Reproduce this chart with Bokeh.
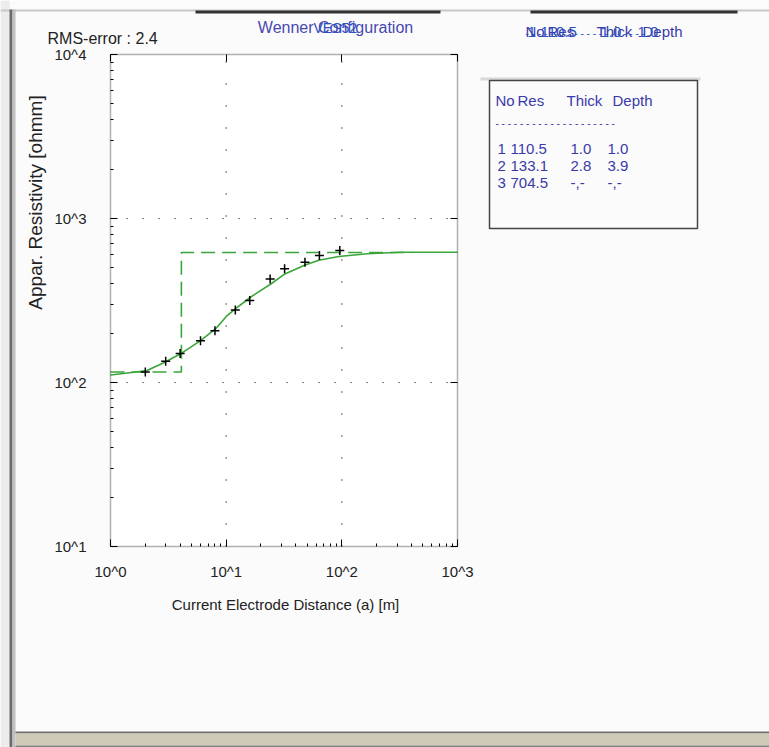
from bokeh.plotting import figure
from bokeh.models import (LogAxis, LogScale, Label, BoxAnnotation, CustomJSTickFormatter,
                          Range1d, FixedTicker)
from bokeh.embed import file_html
from bokeh.resources import INLINE

# ---------------- data ----------------
spacing = [2, 3, 4, 6, 8, 12, 16, 24, 32, 48, 64, 96]
app_res = [116, 135, 150, 180, 207, 277, 316, 427, 493, 541, 594, 638]

fit_x = [1, 1.59, 2.07, 2.95, 4.03, 6.0, 8.08, 10.2, 12, 16.2, 24.5, 31.5, 47.5, 63.2, 94, 166, 320, 1000]
fit_y = [111, 115.6, 118.4, 133, 149.6, 180, 212, 256, 281, 331, 400, 455, 518, 556, 587, 610, 622, 622]

model_x = [1, 4.1, 4.1, 400]
model_y = [116, 116, 620, 620]

x_ticks = [1, 10, 100, 1000]
y_ticks = [10, 100, 1000, 10000]
x_grid = [10, 100]
y_grid = [100, 1000]

table_header = ["No", "Res", "Thick", "Depth"]
layer_no = ["1", "2", "3"]
layer_res = ["110.5", "133.1", "704.5"]
layer_thick = ["1.0", "2.8", "-,-"]
layer_depth = ["1.0", "3.9", "-,-"]
rms_text = "RMS-error :  2.4"
title_text = "Wenner Configuration"
station_text = "VES52"

FONT = "Liberation Sans"
BLUE = "#3a3aa8"
BLUE2 = "#2a4fc0"
GREEN = "#3aa53a"

# ---------------- geometry: frame = whole canvas ----------------
W, H = 769, 747
FX0, FX1, FY0, FY1 = 110, 457, 54, 546          # plot box in canvas pixels
XMIN, XMAX, YMIN, YMAX = 1, 1000, 10, 10000
dx = (FX1 - FX0) / 3.0
dy = (FY1 - FY0) / 3.0
x_range = Range1d(10 ** (-FX0 / dx), 10 ** ((W - FX0) / dx))
y_range = Range1d(10 ** (1 - (H - FY1) / dy), 10 ** (4 + FY0 / dy))

p = figure(x_axis_type=None, y_axis_type=None, x_range=x_range, y_range=y_range,
           x_axis_location=None, y_axis_location=None,
           frame_width=W, frame_height=H, min_border=0,
           output_backend="svg", toolbar_location=None,
           background_fill_color="#fbfbfb", border_fill_color="#fbfbfb")
p.outline_line_color = None
p.xgrid.visible = False
p.ygrid.visible = False
p.x_scale = LogScale()
p.y_scale = LogScale()

# white plot area
p.add_layout(BoxAnnotation(left=XMIN, right=XMAX, bottom=YMIN, top=YMAX,
                           fill_color="white", fill_alpha=1, line_color=None, level="underlay"))

fmt = CustomJSTickFormatter(code='return "10^" + Math.round(Math.log10(tick));')
x_minor = [m * d for d in (1, 10, 100) for m in range(2, 10)]
y_minor = [m * d for d in (10, 100, 1000) for m in range(2, 10)]

def make_axis(ticks, minor, loc, bounds, labels):
    return LogAxis(ticker=FixedTicker(ticks=ticks, minor_ticks=minor), fixed_location=loc,
                   bounds=bounds, axis_line_color=None,
                   major_tick_in=7, major_tick_out=0, minor_tick_in=3 if minor else 0, minor_tick_out=0,
                   major_tick_line_color="black", minor_tick_line_color="black",
                   formatter=fmt, major_label_text_font=FONT, major_label_text_font_size="15px",
                   major_label_text_color="#222222" if labels else None)

xb = make_axis(x_ticks, x_minor, YMIN, (XMIN, XMAX), True)
xb.major_label_standoff = 16
yl = make_axis(y_ticks, y_minor, XMIN, (YMIN, YMAX), True)
yl.major_label_standoff = 24
xt = make_axis(x_ticks, [], YMAX, (XMIN, XMAX), False)
yr = make_axis(y_ticks, [], XMAX, (YMIN, YMAX), False)
p.add_layout(xb, "below")
p.add_layout(yl, "left")
p.add_layout(xt, "above")
p.add_layout(yr, "right")

# dotted grid lines inside the box
p.segment(x0=x_grid, y0=[YMIN] * len(x_grid), x1=x_grid, y1=[YMAX] * len(x_grid),
          line_color="black", line_width=1.2, line_dash="1 21")
p.segment(x0=[XMIN] * len(y_grid), y0=y_grid, x1=[XMAX] * len(y_grid), y1=y_grid,
          line_color="black", line_width=1.2, line_dash="1 15")

# ---------------- marks ----------------
p.line(model_x, model_y, line_color=GREEN, line_width=1.6, line_dash="14 7")
p.line(fit_x, fit_y, line_color=GREEN, line_width=1.6)
p.scatter(spacing, app_res, marker="cross", size=9, line_color="black", line_width=1.5)

p.add_layout(BoxAnnotation(left=XMIN, right=XMAX, bottom=YMIN, top=YMAX,
                           fill_alpha=0, line_color="black", line_width=1.5))

# ---------------- helpers for screen placement (canvas pixels, y down) ----------------
def label(X, Y, text, size="15px", color="#222222", align="left", angle=0, base="middle"):
    p.add_layout(Label(x=X, y=H - Y, x_units="screen", y_units="screen", text=text,
                       text_font=FONT, text_font_size=size, text_color=color,
                       text_align=align, text_baseline=base, angle=angle))

def box(X0, Y0, X1, Y1, fill=None, line=None, lw=1):
    p.add_layout(BoxAnnotation(left=X0, right=X1, top=H - Y0, bottom=H - Y1,
                               left_units="screen", right_units="screen",
                               top_units="screen", bottom_units="screen",
                               fill_color=fill, fill_alpha=1 if fill else 0,
                               line_color=line, line_width=lw, line_alpha=1 if line else 0))

# texts
label(47, 38, rms_text, size="16px")
label(335, 27, title_text, color="#4848b0", align="center", size="16px")
label(313, 27, station_text, color=BLUE2, size="14px")
label(35, 202, "Appar. Resistivity [ohmm]", angle=1.5708, align="center", size="19px")
label(285, 604, "Current Electrode Distance (a) [m]", align="center")

# table
hdr_x = [495, 517, 566, 612]
def table(ox, oy, color):
    for hx, t in zip(hdr_x, table_header):
        label(hx + ox, 100 + oy, t, color=color)
    label(495 + ox, 123 + oy, "- - - - - - - - - - - - - - - - - - - -", size="10px", color=color)
    for i in range(len(layer_no)):
        y = 148 + 17 * i + oy
        label(497 + ox, y, layer_no[i], color=color)
        label(510 + ox, y, layer_res[i], color=color)
        label(570 + ox, y, layer_thick[i], color=color)
        label(607 + ox, y, layer_depth[i], color=color)

box(480, 77, 700, 80, fill="#d8d8d8")
box(489, 80, 697, 228, line="#444444", lw=1.5)
table(0, 0, BLUE)

# overlapped header + first row at top right (redraw artefact in original)
for hx, t in zip(hdr_x, table_header):
    label(hx + 30, 31, t, color=BLUE)
label(495 + 30, 33, "- - - - - - - - - - - - - - - - - - - -", size="10px", color=BLUE2)
for xx, t in zip([527, 540, 600, 637], [layer_no[0], layer_res[0], layer_thick[0], layer_depth[0]]):
    label(xx, 31, t, color=BLUE2)

# window chrome
box(0, 0, 9, H, fill="#ececec")
box(0, 9, W, 11, fill="#c8c8c8")
box(195, 10, 440, 13, fill="#333333")
box(530, 10, 737, 13, fill="#333333")
box(9, 9, 12, 747, fill="#6a6a6a")
box(12, 9, 15, 747, fill="#c0c0c0")
box(15, 731, W, 733, fill="#707070")
box(15, 733, W, 745, fill="#cfc9b8")
box(15, 745, W, 747, fill="#808080")

open("out.html", "w").write(file_html(p, INLINE))
